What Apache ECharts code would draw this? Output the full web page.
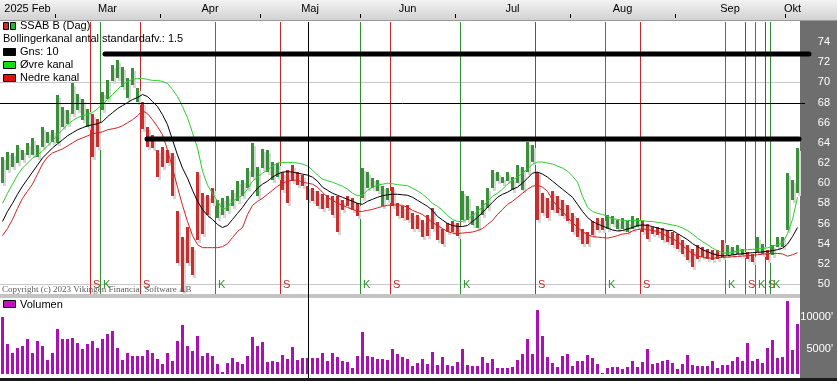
<!DOCTYPE html>
<html><head><meta charset="utf-8">
<script src="https://cdn.jsdelivr.net/npm/echarts@6/dist/echarts.min.js"></script>
<style>html,body{margin:0;padding:0;background:#fff}#c{width:837px;height:381px}</style>
</head><body><div id="c"></div><script>
// ---- data ----
const monthNames = ['2025 Feb','Mar','Apr','Maj','Jun','Jul','Aug','Sep','Okt'];
const monthStart = [0,11,32,52,72,91,114,135,157];   // bar index where each month begins

const high = [
62.6,63.1,63.0,63.8,63.3,64.0,64.5,63.8,65.6,65.1,
65.3,68.8,67.6,67.3,69.9,68.9,68.4,67.4,66.9,66.4,
69.1,70.2,71.7,72.2,71.5,70.4,71.4,69.4,68.1,65.6,
64.8,63.3,63.6,63.3,63.0,57.2,54.7,55.7,53.7,61.1,
59.0,58.8,59.5,58.3,58.5,58.7,59.3,60.2,60.3,61.5,
64.0,61.6,63.4,63.3,62.1,62.0,61.1,61.3,61.8,61.1,
60.8,59.7,59.5,59.2,58.9,58.8,58.7,58.7,58.3,58.7,
58.5,58.0,61.5,61.1,60.5,60.3,59.7,59.5,59.6,58.0,
57.7,57.8,57.0,56.8,56.3,56.8,57.5,56.1,55.5,56.0,
56.2,56.0,59.2,58.7,57.2,57.7,58.3,59.5,61.3,61.1,
60.6,61.1,60.6,61.8,61.6,64.1,63.8,61.1,59.0,58.5,
59.2,58.7,58.3,57.8,57.0,56.5,55.5,55.2,56.2,56.5,
56.5,56.8,56.7,56.3,56.5,56.2,56.7,56.5,56.2,55.9,
55.7,55.7,55.6,55.4,55.2,55.0,54.4,53.9,53.5,53.9,
53.7,53.5,53.4,53.4,54.4,53.9,53.7,53.9,53.5,53.2,
53.0,54.7,54.0,53.4,53.9,54.7,54.7,61.0,60.3,63.5];

const low = [
60.0,61.3,61.6,62.0,62.3,62.8,62.8,62.6,63.6,64.0,
64.1,64.0,65.6,65.9,66.9,67.3,66.3,65.6,62.6,63.6,
67.3,68.4,70.1,70.4,69.5,68.5,69.7,68.1,65.4,63.6,
63.5,60.6,61.6,62.0,58.7,52.1,49.2,52.1,50.9,54.4,
55.0,56.8,58.0,56.5,56.8,57.2,57.7,58.2,58.7,59.5,
60.6,58.7,61.5,61.1,60.3,60.6,59.3,58.0,60.2,59.8,
59.7,58.3,58.2,57.7,57.4,57.5,56.8,55.2,57.3,57.7,
57.3,56.7,58.5,59.5,59.5,59.2,57.7,58.3,57.7,56.7,
56.5,56.3,55.5,55.5,54.7,54.8,55.5,54.4,54.0,55.2,
55.2,54.8,56.3,56.3,55.8,55.6,56.8,57.5,59.5,60.2,
60.0,60.2,59.3,60.0,59.3,61.1,62.1,56.3,57.0,56.5,
57.3,57.0,56.7,56.2,55.2,54.7,54.0,54.0,54.9,55.4,
55.4,55.5,55.9,55.5,55.5,55.2,55.5,55.7,55.2,54.5,
55.0,54.9,54.4,54.2,53.9,53.5,53.0,52.4,51.7,52.5,
52.7,52.5,52.4,52.5,52.7,52.9,52.9,53.0,52.9,52.5,
52.2,53.2,53.0,52.4,52.9,53.7,53.7,55.4,58.3,59.0];

const volume = [ // thousands of shares
9990,5680,4360,5150,5420,6470,4360,6200,5420,3210,
4360,8040,6470,6470,6730,5940,4890,5680,6200,5150,
6470,7250,7780,5150,3210,4360,3840,3840,3840,4730,
4360,3310,2520,4360,3050,6200,8670,5420,4620,6990,
3840,4360,3790,2520,1260,2680,3470,2840,2520,3790,
6780,5360,5990,2840,3000,2840,3940,3310,5210,3150,
3470,3470,3470,3470,4260,3000,4260,3630,3000,2840,
1890,3790,7570,3790,3630,3310,3310,3150,4890,4100,
3630,3310,2210,2680,3310,2520,4420,2370,3630,2370,
2210,2840,4890,2370,2210,2210,3630,2680,3310,1890,
1890,1890,2050,3150,4100,6470,4100,11050,6940,3630,
2680,2050,3790,4100,2210,3000,3000,3940,3470,2520,
1100,1890,2050,2050,1740,2050,3000,2050,2840,4890,
2520,2680,3000,3150,2680,1740,2520,3940,2370,2210,
2210,2210,3000,1890,2370,2370,3000,3630,3000,5840,
3000,3310,2680,5050,6310,3470,3630,12470,4730,8840];

const upperBand = [
58.0,59.0,59.9,60.8,61.5,62.0,62.5,62.8,63.2,63.7,
64.2,64.8,65.3,65.8,66.2,66.5,66.7,66.8,67.0,67.4,
67.8,68.3,68.8,69.3,69.8,70.1,70.3,70.4,70.4,70.3,
70.2,70.2,70.1,69.9,69.3,68.6,67.6,66.5,65.0,63.5,
61.2,59.8,59.0,58.2,57.4,57.6,58.2,58.5,58.8,59.4,
60.2,60.6,61.0,61.3,61.7,62.0,62.05,62.07,62.05,62.0,
61.9,61.7,61.3,60.8,60.4,60.25,60.1,59.9,59.7,59.4,
59.0,58.75,58.8,59.3,59.6,59.8,59.9,60.0,59.95,59.85,
59.8,59.75,59.5,59.25,58.9,58.5,58.0,57.7,57.3,56.8,
56.4,56.2,56.2,56.45,56.8,57.2,57.7,58.2,58.7,59.0,
59.4,59.9,60.3,60.6,61.0,61.4,61.9,62.1,62.1,62.0,
61.9,61.7,61.5,61.2,60.7,60.1,58.7,57.6,57.2,57.0,
56.9,56.7,56.5,56.4,56.3,56.3,56.3,56.3,56.3,56.2,
56.2,56.1,56.05,55.95,55.85,55.75,55.55,55.3,54.95,54.55,
54.2,53.9,53.55,53.3,53.1,53.05,53.15,53.25,53.35,53.4,
53.43,53.47,53.52,53.58,53.75,53.9,54.05,55.0,56.4,58.6];

const middleBand = [
56.2,57.2,58.0,58.9,59.7,60.4,61.1,61.8,62.5,63.0,
63.5,63.9,64.3,64.7,65.0,65.3,65.5,65.7,65.8,65.9,
66.1,66.6,67.0,67.4,67.7,68.0,68.3,68.5,68.8,68.6,
68.1,67.6,66.8,65.8,64.3,62.8,61.5,60.5,59.3,58.2,
57.4,56.8,56.4,55.9,55.6,55.8,56.4,57.0,57.6,58.3,
58.9,59.5,59.9,60.2,60.6,60.9,61.1,61.14,61.1,61.0,
60.9,60.8,60.6,60.2,59.6,59.3,59.0,58.8,58.6,58.4,
58.2,58.0,57.9,58.2,58.4,58.6,58.75,58.85,58.9,58.9,
58.85,58.8,58.6,58.3,58.0,57.7,57.3,56.7,56.35,56.0,
55.8,55.7,55.7,55.8,56.2,56.6,57.1,57.6,58.1,58.6,
58.9,59.1,59.4,59.6,60.0,60.5,61.0,61.1,60.9,60.6,
60.2,59.8,59.4,59.0,58.6,57.9,57.2,56.6,56.2,55.95,
55.75,55.55,55.35,55.26,55.3,55.45,55.6,55.8,55.85,55.8,
55.7,55.55,55.4,55.3,55.3,55.0,54.7,54.4,54.0,53.7,
53.4,53.2,53.0,52.85,52.78,52.8,52.88,52.95,53.0,53.05,
53.1,53.13,53.18,53.23,53.3,53.4,53.55,53.95,54.7,55.6];

const lowerBand = [
54.8,55.5,56.4,57.5,58.5,59.2,59.9,60.9,61.9,62.6,
63.0,63.2,63.4,63.7,64.0,64.3,64.5,64.7,64.9,65.0,
65.1,65.3,65.4,65.5,65.7,66.0,66.3,66.7,67.2,66.9,
66.3,65.6,64.8,63.3,61.5,59.6,57.8,56.2,54.8,53.9,
53.6,53.6,53.6,53.6,53.7,54.0,54.6,55.2,55.6,56.9,
57.8,58.2,58.5,58.9,59.3,59.7,60.0,60.2,60.3,60.3,
60.1,60.0,59.9,59.6,59.1,58.6,58.3,58.0,57.8,57.6,
57.4,57.2,57.2,57.3,57.4,57.55,57.7,57.8,57.85,57.85,
57.8,57.6,57.3,57.1,56.9,56.5,56.1,55.8,55.5,55.2,
55.05,55.0,55.05,55.1,55.15,55.3,55.5,55.9,56.3,56.9,
57.4,57.9,58.2,58.6,59.0,59.4,59.7,59.8,59.6,59.2,
58.3,57.7,57.2,56.6,56.1,55.6,55.2,54.9,54.7,54.65,
54.6,54.55,54.65,54.8,54.95,55.0,55.25,55.4,55.45,55.4,
55.3,55.2,55.0,54.7,54.5,54.2,53.8,53.4,53.0,52.75,
52.65,52.58,52.55,52.6,52.63,52.66,52.7,52.73,52.77,52.8,
52.85,52.9,52.95,53.0,53.02,53.03,52.98,52.75,52.9,53.1];

// trading signals: first bar of each new regime (K = köp/green, S = sälj/red)
const signalIndex = [18,20,28,43,56,72,78,92,107,121,128,145,149,151,153,154];
const signalType  = ['S','K','S','K','S','K','S','K','S','K','S','K','S','K','S','K'];
const initialRegime = 'K';

// hand-drawn trend lines (level, from bar, to bar)
const trendLevel = [72.8, 64.35];
const trendFrom  = [20.5, 28.9];
const trendTo    = [161.3, 159.3];

const priceTicks  = [50,52,54,56,58,60,62,64,66,68,70,72,74];
const volumeTicks = [5000,10000];
const gridLevels  = [50,70];
const cursorIndex = 61, cursorLevel = 68;

// ---- derived helpers ----
const N = high.length;
const regime = [];
{ let cur = initialRegime, k = 0;
  for (let i = 0; i < N; i++) {
    while (k < signalIndex.length && signalIndex[k] <= i) { cur = signalType[k]; k++; }
    regime.push(cur === 'K' ? 1 : 0);
  } }
const monthCenters = monthStart.map((s,k)=> (s + (k+1 < monthStart.length ? monthStart[k+1] : N))/2 - 0.5);
const monthTicks = monthStart.slice(1).map(s => s - 0.5);

const GREEN = '#3b8f3b', RED = '#c83030', SHADOW = '#d6d6d6';
const SIG_GREEN = '#2f8f2f', SIG_RED = '#c82828';
const FONT = '"Liberation Sans", Arial, sans-serif';

const chart = echarts.init(document.getElementById('c'), null, {renderer:'canvas'});

function barItem(params, api){
  const i = api.value(0);
  const t = api.coord([i, api.value(1)]);
  const b = api.coord([i, api.value(2)]);
  const x = Math.floor(t[0]) - 1;
  const y0 = Math.round(t[1]), y1 = Math.round(b[1]);
  const h = Math.max(1, y1 - y0);
  return {type:'group', children:[
    {type:'rect', shape:{x:x+2, y:y0+3, width:3, height:h}, style:{fill:SHADOW}},
    {type:'rect', shape:{x:x, y:y0, width:3, height:h}, style:{fill: api.value(3) ? GREEN : RED}}
  ]};
}
function signalItem(params, api){
  const cs = params.coordSys;
  const c = api.coord([api.value(0), 60]);
  const x = Math.floor(c[0]) - 2 + 0.5;
  const isK = api.value(1) === 1;
  const col = isK ? SIG_GREEN : SIG_RED;
  return {type:'group', children:[
    {type:'line', shape:{x1:x, y1:cs.y, x2:x, y2:cs.y+cs.height}, style:{stroke:col, lineWidth:1}},
    {type:'text', x:x+2.5, y:cs.y+cs.height-9.5, style:{text:isK?'K':'S', fill:col, font:'11px '+FONT, verticalAlign:'middle'}}
  ]};
}
function gridLineItem(params, api){
  const cs = params.coordSys;
  const y = Math.round(api.coord([0, api.value(1)])[1]) + 0.5;
  return {type:'line', shape:{x1:cs.x, y1:y, x2:cs.x+cs.width, y2:y}, style:{stroke:'#c8c8c8', lineWidth:1}};
}
function cursorItem(params, api){
  const cs = params.coordSys;
  const c = api.coord([api.value(0), api.value(1)]);
  const x = Math.round(c[0]) + 0.5, y = Math.round(c[1]) + 0.5;
  return {type:'group', children:[
    {type:'line', shape:{x1:x, y1:cs.y, x2:x, y2:cs.y+cs.height}, style:{stroke:'#000', lineWidth:1}},
    {type:'line', shape:{x1:cs.x, y1:y, x2:cs.x+cs.width+5, y2:y}, style:{stroke:'#000', lineWidth:1}}
  ]};
}
function cursorVolItem(params, api){
  const cs = params.coordSys;
  const x = Math.round(api.coord([api.value(0), 5000])[0]) + 0.5;
  return {type:'line', shape:{x1:x, y1:cs.y-4, x2:x, y2:cs.y+cs.height+4}, style:{stroke:'#000', lineWidth:1}};
}
function trendItem(params, api){
  const p1 = api.coord([api.value(0), api.value(2)]);
  const p2 = api.coord([api.value(1), api.value(2)]);
  const y = Math.round(p1[1]);
  return {type:'line', shape:{x1:p1[0], y1:y, x2:p2[0], y2:y}, style:{stroke:'#000', lineWidth:5, lineCap:'round'}};
}
function volItem(params, api){
  const cs = params.coordSys;
  const t = api.coord([api.value(0), api.value(1)]);
  const x = Math.floor(t[0]) - 1;
  const y = Math.round(t[1]);
  return {type:'rect', shape:{x:x, y:y, width:3, height:cs.y+cs.height-y}, style:{fill:'#a812b4'}};
}

const legendRows = [
  {text:'SSAB B (Dag)', icons:[RED,'#22bb22'], y:26, x:20},
  {text:'Bollingerkanal antal standardafv.: 1.5', icons:[], y:39, x:3},
  {text:'Gns: 10', icons:['#000'], y:52, x:20},
  {text:'\u00D8vre kanal', icons:['#10e010'], y:65, x:20},
  {text:'Nedre kanal', icons:['#e01010'], y:78, x:20}
];
const graphics = [
  {type:'rect', z:-10, shape:{x:0,y:0,width:837,height:21},
   style:{fill:new echarts.graphic.LinearGradient(0,0,0,1,[{offset:0,color:'#f3f3f3'},{offset:1,color:'#d0d0d0'}])}},
  {type:'rect', z:-10, shape:{x:0,y:20,width:837,height:1}, style:{fill:'#9a9a9a'}},
  {type:'rect', z:-10, shape:{x:800,y:21,width:37,height:360}, style:{fill:'#6e6e6e'}},
  {type:'rect', z:-10, shape:{x:0,y:294,width:800,height:4}, style:{fill:'#c4c4c4'}},
  {type:'rect', z:50, shape:{x:0,y:378,width:837,height:3}, style:{fill:'#1a1a1a'}},
  {type:'text', z:50, x:2, y:290, style:{text:'Copyright (c) 2023 Vikingen Financial Software AB', fill:'#5a5a5a', font:'9px "Liberation Serif", "Times New Roman", serif', verticalAlign:'middle'}},
  {type:'rect', z:50, shape:{x:3.5,y:300.5,width:12,height:7}, style:{fill:'#c010c0', stroke:'#000', lineWidth:1}},
  {type:'text', z:50, x:20, y:304.5, style:{text:'Volumen', fill:'#000', font:'11px '+FONT, verticalAlign:'middle'}}
];
legendRows.forEach(r => {
  if (r.icons.length === 2) {
    graphics.push({type:'rect', z:50, shape:{x:3.5,y:r.y-3.5,width:5,height:7}, style:{fill:r.icons[0], stroke:'#000', lineWidth:1}});
    graphics.push({type:'rect', z:50, shape:{x:10.5,y:r.y-3.5,width:5,height:7}, style:{fill:r.icons[1], stroke:'#000', lineWidth:1}});
  } else if (r.icons.length === 1) {
    graphics.push({type:'rect', z:50, shape:{x:3.5,y:r.y-3.5,width:12,height:7}, style:{fill:r.icons[0], stroke:'#000', lineWidth:1}});
  }
  graphics.push({type:'text', z:50, x:r.x, y:r.y, style:{text:r.text, fill:'#000', font:'11px '+FONT, verticalAlign:'middle'}});
});

const option = {
  animation:false,
  backgroundColor:'#ffffff',
  graphic: graphics,
  grid:[
    {left:0, top:22, width:800, height:272},
    {left:0, top:298, width:800, height:76}
  ],
  xAxis:[
    {gridIndex:0, type:'value', min:-0.5, max:N-0.5, position:'top', offset:4,
     axisLine:{show:false}, splitLine:{show:false},
     axisTick:{show:true, customValues:monthTicks, length:4, lineStyle:{color:'#000'}},
     axisLabel:{show:true, customValues:monthCenters, margin:4, color:'#000', fontSize:11, fontFamily:FONT,
       formatter:(v)=>{ const k = monthCenters.findIndex(c=>Math.abs(c-v)<1e-6); return k>=0 ? monthNames[k] : ''; }}},
    {gridIndex:1, type:'value', min:-0.5, max:N-0.5, show:false}
  ],
  yAxis:[
    {gridIndex:0, type:'value', position:'right', min:49, max:76,
     axisLine:{show:false}, splitLine:{show:false},
     axisTick:{show:true, customValues:priceTicks, length:6, lineStyle:{color:'#ffffff'}},
     axisLabel:{customValues:priceTicks, color:'#ffffff', fontSize:11, fontFamily:FONT, align:'right', margin:30}},
    {gridIndex:1, type:'value', position:'right', min:1000, max:13000,
     axisLine:{show:false}, splitLine:{show:false},
     axisTick:{show:true, customValues:volumeTicks, length:5, lineStyle:{color:'#ffffff'}},
     axisLabel:{customValues:volumeTicks, color:'#ffffff', fontSize:11, fontFamily:FONT, align:'right', margin:33,
       formatter:(v)=> v + "'"}}
  ],
  series:[
    {type:'custom', name:'grid', xAxisIndex:0, yAxisIndex:0, z:1, silent:true,
     data: gridLevels.map(v=>[0,v]), renderItem:gridLineItem},
    {type:'custom', name:'signals', xAxisIndex:0, yAxisIndex:0, z:2, silent:true,
     data: signalIndex.map((s,k)=>[s, signalType[k]==='K'?1:0]), encode:{x:0}, renderItem:signalItem},
    {type:'custom', name:'SSAB B', xAxisIndex:0, yAxisIndex:0, z:3, silent:true,
     data: high.map((h,i)=>[i, h, low[i], regime[i]]), encode:{x:0, y:[1,2]}, renderItem:barItem},
    {type:'line', name:'Övre kanal', xAxisIndex:0, yAxisIndex:0, z:4, silent:true, symbol:'none',
     data: upperBand.map((v,i)=>[i,v]), lineStyle:{color:'#2ecc2e', width:1}},
    {type:'line', name:'Gns', xAxisIndex:0, yAxisIndex:0, z:4, silent:true, symbol:'none',
     data: middleBand.map((v,i)=>[i,v]), lineStyle:{color:'#000000', width:1}},
    {type:'line', name:'Nedre kanal', xAxisIndex:0, yAxisIndex:0, z:4, silent:true, symbol:'none',
     data: lowerBand.map((v,i)=>[i,v]), lineStyle:{color:'#d42020', width:1}},
    {type:'custom', name:'cursor', xAxisIndex:0, yAxisIndex:0, z:6, silent:true, clip:false,
     data:[[cursorIndex, cursorLevel]], renderItem:cursorItem},
    {type:'custom', name:'trend', xAxisIndex:0, yAxisIndex:0, z:7, silent:true, clip:false,
     data: trendLevel.map((v,k)=>[trendFrom[k], trendTo[k], v]), encode:{x:[0,1], y:2}, renderItem:trendItem},
    {type:'custom', name:'Volumen', xAxisIndex:1, yAxisIndex:1, z:3, silent:true,
     data: volume.map((v,i)=>[i,v]), encode:{x:0, y:1}, renderItem:volItem},
    {type:'custom', name:'cursorVol', xAxisIndex:1, yAxisIndex:1, z:6, silent:true, clip:false,
     data:[[cursorIndex, 5000]], renderItem:cursorVolItem}
  ]
};
chart.setOption(option);
</script></body></html>
